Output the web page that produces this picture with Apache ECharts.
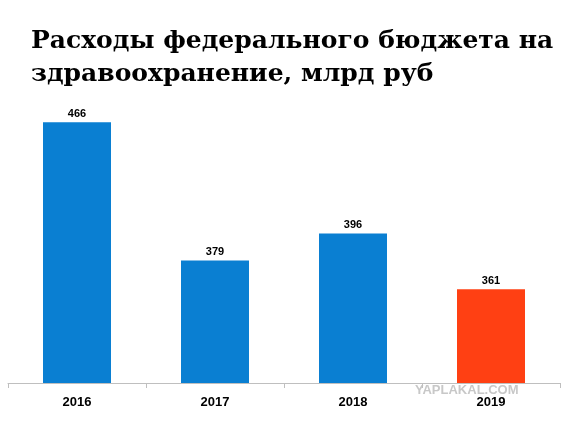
<!DOCTYPE html>
<html><head><meta charset="utf-8">
<script src="https://cdn.jsdelivr.net/npm/echarts@6/dist/echarts.min.js"></script>
<style>html,body{margin:0;padding:0;background:#fff}#c{width:580px;height:423px}</style>
</head><body><div id="c"></div>
<script>
const categories = ['2016','2017','2018','2019'];
const values = [466, 379, 396, 361];
const barColors = ['#0A7FD2','#0A7FD2','#0A7FD2','#FF4013'];
const chart = echarts.init(document.getElementById('c'));
chart.setOption({
  animation:false,
  title:{text:'Расходы федерального бюджета на\nздравоохранение, млрд руб',left:26,top:20,
    textStyle:{fontFamily:'DejaVu Serif',fontWeight:'bold',fontSize:25,lineHeight:33,color:'#000'}},
  grid:{left:8,right:20,top:100,bottom:40},
  xAxis:{type:'category',data:categories,
    axisLine:{lineStyle:{color:'#BFBFBF'}},axisTick:{show:true,lineStyle:{color:'#BFBFBF'}},
    axisLabel:{fontFamily:'Liberation Sans',fontWeight:'bold',fontSize:13,color:'#000',margin:13}},
  yAxis:{type:'value',min:302,max:480,show:false,splitLine:{show:false}},
  graphic:[{type:'text',left:415,top:384,style:{text:'YAPLAKAL.COM',fill:'#C8C8C8',font:'bold 13px Liberation Sans'}}],
  series:[{type:'bar',barWidth:68,
    data:values.map((v,i)=>({value:v,itemStyle:{color:barColors[i]}})),
    label:{show:true,position:'top',distance:3,fontFamily:'Liberation Sans',fontWeight:'bold',fontSize:11,color:'#000'}}]
});
</script></body></html>
